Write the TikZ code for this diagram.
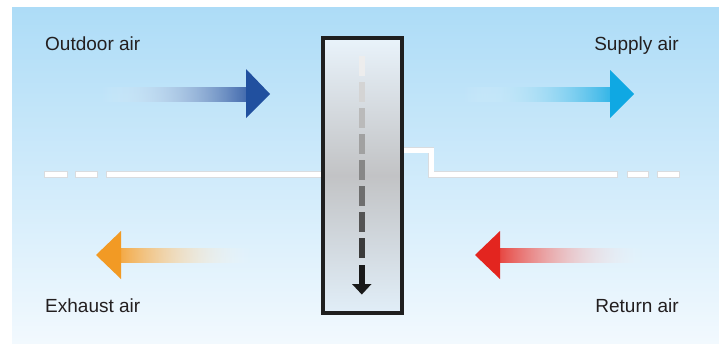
\documentclass[tikz,border=0pt]{standalone}
\usepackage{fontspec}
\setmainfont{Liberation Sans}
\usetikzlibrary{fadings}

\definecolor{skytop}{HTML}{ADDCF7}
\definecolor{skybot}{HTML}{F2F9FE}
\definecolor{coretop}{HTML}{E9F3FB}
\definecolor{coremid}{HTML}{C2C3C5}
\definecolor{corebot}{HTML}{E1EEF8}
\definecolor{outdoorblue}{HTML}{21509F}
\definecolor{supplycyan}{HTML}{0FA8E3}
\definecolor{exhaustorange}{HTML}{F29A24}
\definecolor{returnred}{HTML}{E3251F}
\definecolor{labelgray}{HTML}{231F20}
\definecolor{wallgray}{HTML}{D9DCDF}

\tikzfading[name=fade in east, left color=transparent!100, right color=transparent!0]
\tikzfading[name=fade in west, left color=transparent!0, right color=transparent!100]

\tikzset{
  airlabel/.style={font=\fontsize{19}{22}\selectfont, text=labelgray, inner sep=0pt},
  wall/.style={draw=wallgray, double=white, double distance=5pt, line width=0.8pt, line cap=rect},
  core/.style={draw=black!88, line width=4.5pt, inner sep=0pt, minimum width=79pt,
    minimum height=275pt, top color=coretop, bottom color=corebot, middle color=coremid},
}

\begin{document}
\begin{tikzpicture}[x=1pt,y=-1pt]
  \useasboundingbox (0,0) rectangle (719,343);
  \fill[white] (0,0) rectangle (719,343);

  % background
  \shade[top color=skytop, bottom color=skybot] (12,7) rectangle (719,343);

  % partition line
  \foreach \a/\b in {47.3/64.7, 78.3/94.7}
    \draw[wall] (\a,174.5) -- (\b,174.5);
  \draw[wall] (109.3,174.5) -- (340,174.5);
  \draw[wall] (390,150) -- (431,150) -- (431,174.5) -- (614.7,174.5);
  \foreach \a/\b in {630.3/645.7, 660.3/676.7}
    \draw[wall] (\a,174.5) -- (\b,174.5);

  % exchanger core
  \node[core] (hx) at (362.5,175.4) {};

  % flow through the core
  \foreach \i in {0,...,7} {
    \pgfmathsetmacro\tone{7+10*\i}
    \fill[black!\tone] (359,56+26*\i) rectangle (365,75.5+26*\i);
  }
  \fill[black!90] (359,265) rectangle (365,285);
  \fill[black!90] (352,284) -- (371.5,284) -- (361.8,294.5) -- cycle;

  % air arrows
  \shade[left color=white, right color=outdoorblue!85!white, path fading=fade in east]
    (100,87) rectangle (247,101);
  \fill[outdoorblue] (246,69) -- (270,94) -- (246,118) -- cycle;

  \shade[left color=white, right color=supplycyan!85!white, path fading=fade in east]
    (462,87) rectangle (611,101);
  \fill[supplycyan] (610,70) -- (634,94) -- (610,118) -- cycle;

  \shade[left color=exhaustorange!85!white, right color=white, path fading=fade in west]
    (120,248) rectangle (252,262);
  \fill[exhaustorange] (121,231) -- (96,255) -- (121,279) -- cycle;

  \shade[left color=returnred!85!white, right color=white, path fading=fade in west]
    (499,248) rectangle (644,262);
  \fill[returnred] (500,231) -- (475,255) -- (500,279) -- cycle;

  % labels
  \node[airlabel, anchor=base west] (outdoor) at (45,50) {Outdoor air};
  \node[airlabel, anchor=base east] (supply) at (679,50) {Supply air};
  \node[airlabel, anchor=base west] (exhaust) at (45,312) {Exhaust air};
  \node[airlabel, anchor=base east] (return) at (679,312) {Return air};
\end{tikzpicture}
\end{document}
